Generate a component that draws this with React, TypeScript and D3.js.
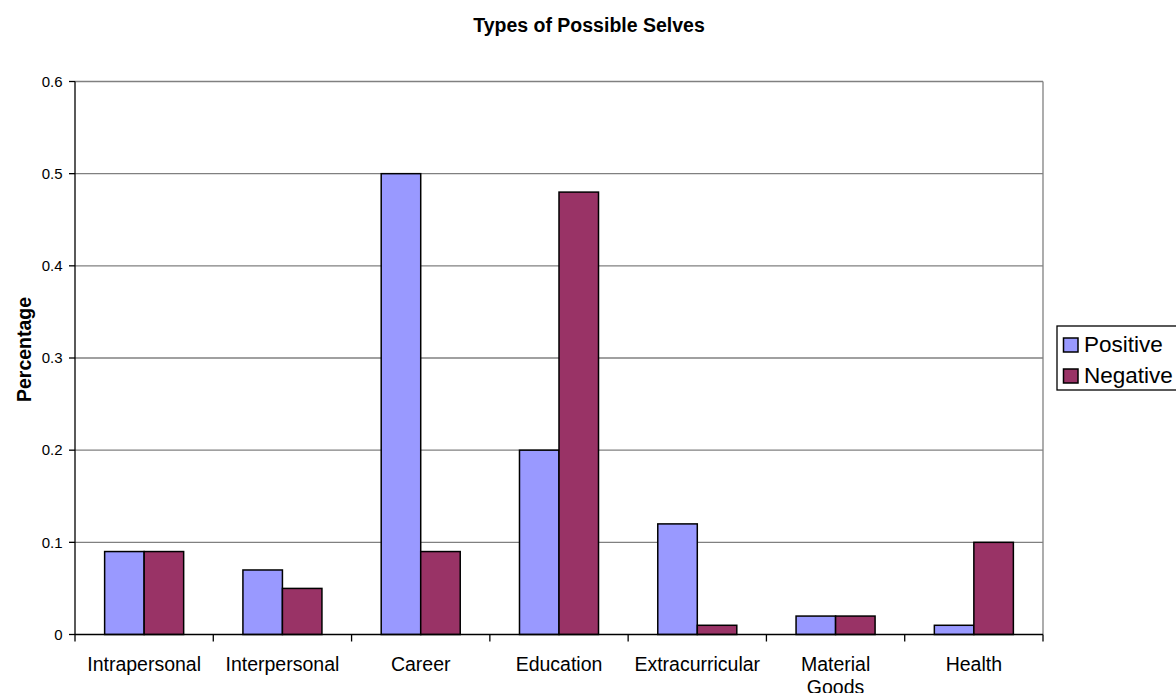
import React from "react";
import * as d3 from "d3";

const categories = ["Intrapersonal", "Interpersonal", "Career", "Education", "Extracurricular", "Material Goods", "Health"];
const positive = [0.09, 0.07, 0.5, 0.2, 0.12, 0.02, 0.01];
const negative = [0.09, 0.05, 0.09, 0.48, 0.01, 0.02, 0.1];
const seriesNames = ["Positive", "Negative"];
const seriesColors = ["#9999FF", "#993366"];
const yTicks = [0, 0.1, 0.2, 0.3, 0.4, 0.5, 0.6];
const categoryLines: Record<string, string[]> = { "Material Goods": ["Material", "Goods"] };

const W = 1176;
const H = 693;
const FONT = "Arial, 'Liberation Sans', Helvetica, sans-serif";

export default function App() {
  const left = 75, right = 1043, top = 81.5, bottom = 634.5;
  const x = d3.scaleBand<string>().domain(categories).range([left, right]).paddingInner(0).paddingOuter(0);
  const inner = d3.scaleBand<string>().domain(seriesNames).range([0, x.bandwidth()]).paddingInner(0).paddingOuter(0.75);
  const y = d3.scaleLinear().domain([0, 0.6]).range([bottom, top]);
  const series = [positive, negative];

  return (
    <div style={{ position: "absolute", left: 0, top: 0 }}>
      <svg width={W} height={H} style={{ display: "block", background: "#fff" }} fontFamily={FONT}>
        <text x={589} y={31.5} textAnchor="middle" fontWeight="bold" fontSize={19.5} fill="#000">
          Types of Possible Selves
        </text>
        {/* gridlines */}
        {yTicks.filter((t) => t > 0).map((t) => (
          <line key={t} x1={left} x2={right} y1={y(t)} y2={y(t)} stroke="#808080" strokeWidth={1.3} />
        ))}
        <line x1={right} x2={right} y1={top} y2={bottom} stroke="#808080" strokeWidth={1.3} />
        {/* bars */}
        {categories.map((c, i) =>
          series.map((s, j) => {
            const bx = (x(c) as number) + (inner(seriesNames[j]) as number);
            return (
              <rect
                key={c + j}
                x={bx}
                y={y(s[i])}
                width={inner.bandwidth()}
                height={y(0) - y(s[i])}
                fill={seriesColors[j]}
                stroke="#000"
                strokeWidth={1.5}
              />
            );
          })
        )}
        {/* axes */}
        <line x1={left} x2={left} y1={top} y2={bottom} stroke="#000" strokeWidth={1.3} />
        <line x1={left} x2={right} y1={bottom} y2={bottom} stroke="#000" strokeWidth={1.3} />
        {yTicks.map((t) => (
          <g key={t}>
            <line x1={left - 6} x2={left} y1={y(t)} y2={y(t)} stroke="#000" strokeWidth={1.3} />
            <text x={62.5} y={y(t) + 5.3} textAnchor="end" fontSize={15} fill="#000">
              {String(t)}
            </text>
          </g>
        ))}
        {categories.map((c, i) => (
          <line key={c} x1={(x(c) as number) + (i === 0 ? 0 : 0)} x2={x(c) as number} y1={bottom} y2={bottom + 7} stroke="#000" strokeWidth={1.3} />
        ))}
        <line x1={right} x2={right} y1={bottom} y2={bottom + 7} stroke="#000" strokeWidth={1.3} />
        {categories.map((c) => {
          const lines = categoryLines[c] || [c];
          const cx = (x(c) as number) + x.bandwidth() / 2;
          return (
            <text key={c} x={cx} y={670.5} textAnchor="middle" fontSize={19.5} fill="#000">
              {lines.map((l, k) => (
                <tspan key={k} x={cx} dy={k === 0 ? 0 : 23}>
                  {l}
                </tspan>
              ))}
            </text>
          );
        })}
        <text
          transform={`translate(31,${349.5}) rotate(-90)`}
          textAnchor="middle"
          fontWeight="bold"
          fontSize={19.5}
          fill="#000"
        >
          Percentage
        </text>
        {/* legend */}
        <rect x={1057} y={326} width={140} height={64} fill="#fff" stroke="#000" strokeWidth={1.3} />
        {seriesNames.map((n, j) => (
          <g key={n}>
            <rect x={1063.5} y={338 + j * 31} width={14.5} height={14} fill={seriesColors[j]} stroke="#000" strokeWidth={1.5} />
            <text x={1084} y={352 + j * 31} fontSize={22.5} fill="#000">
              {n}
            </text>
          </g>
        ))}
      </svg>
    </div>
  );
}
